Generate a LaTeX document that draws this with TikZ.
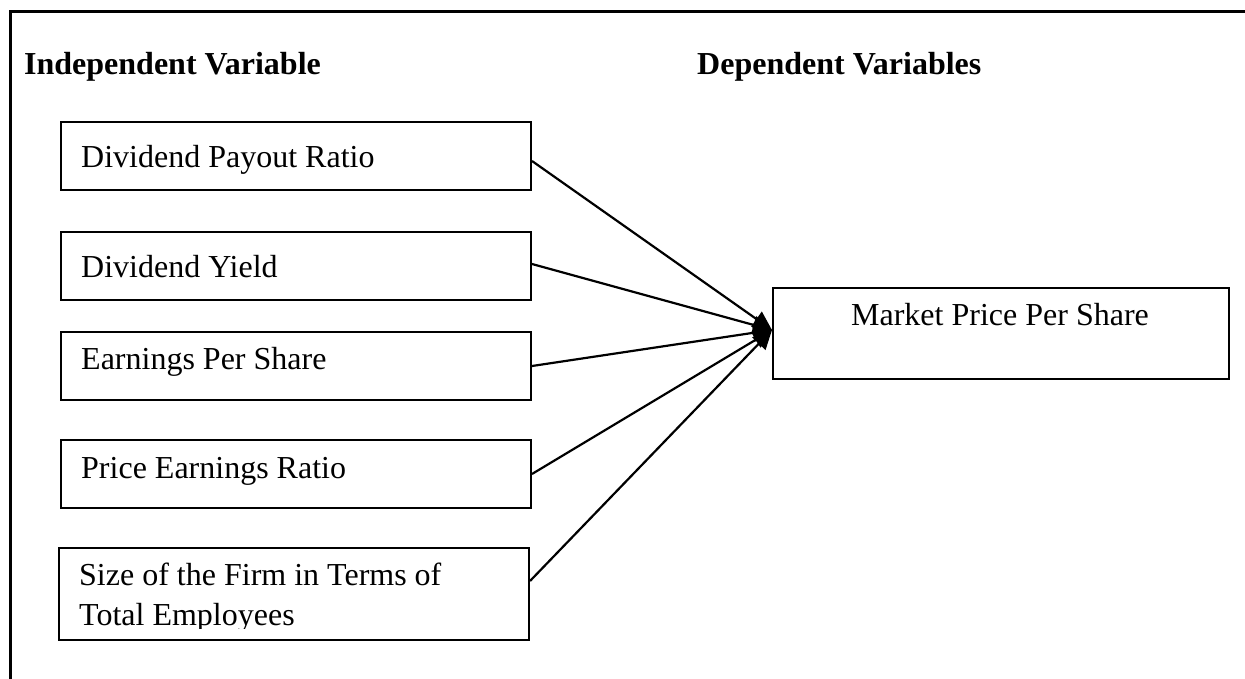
\documentclass[tikz,border=0pt]{standalone}
\usepackage{fontspec}
\setmainfont{Liberation Serif}
\usetikzlibrary{arrows.meta}
\tikzset{
  varbox/.style={draw, line width=2pt, minimum width=470pt, minimum height=68pt,
                 anchor=north west, inner sep=0pt},
  boxtext/.style={anchor=base west, inner sep=0pt, font=\fontsize{32}{38}\selectfont},
  heading/.style={anchor=base west, inner sep=0pt, font=\fontsize{32}{38}\selectfont\bfseries},
  link/.style={line width=2.2pt, -{Triangle[length=19pt,width=18pt]}},
}
\begin{document}
\begin{tikzpicture}[x=1pt,y=-1pt]
\useasboundingbox (0,0) rectangle (1245,679);

% outer frame (open to the right and bottom)
\draw[line width=3pt] (10,680) -- (10,12) -- (1246,12);

% headings
\node[heading] (hind) at (24,75) {Independent Variable};
\node[heading] (hdep) at (697,75) {Dependent Variables};

% independent variable boxes
\node[varbox] (dpr) at (60,121) {};
\node[varbox] (dy)  at (60,231) {};
\node[varbox] (eps) at (60,331) {};
\node[varbox] (per) at (60,439) {};
\node[varbox, minimum height=92pt] (size) at (58,547) {};

\node[boxtext] (tdpr) at (81,168) {Dividend Payout Ratio};
\node[boxtext] (tdy)  at (81,277) {Dividend Yield};
\node[boxtext] (teps) at (81,369) {Earnings Per Share};
\node[boxtext] (tper) at (81,478) {Price Earnings Ratio};
\begin{scope}
  \clip (58,547) rectangle (530,628);
  \node[boxtext] (tsz1) at (79,585) {Size of the Firm in Terms of};
  \node[boxtext] (tsz2) at (79,625) {Total Employees};
\end{scope}

% dependent variable box
\node[varbox, minimum width=456pt, minimum height=91pt] (mps) at (772,287) {};
\node[anchor=base, inner sep=0pt, font=\fontsize{32}{38}\selectfont] (tmps) at (1000,325) {Market Price Per Share};

% links
\coordinate (tip) at (772,330);
\draw[link] ([yshift=-5pt]dpr.east) -- (tip);
\draw[link] ([yshift=2pt]dy.east) -- (tip);
\draw[link] (eps.east) -- (tip);
\draw[link] (per.east) -- (tip);
\draw[link] ([yshift=13pt]size.east) -- (tip);
\end{tikzpicture}
\end{document}
